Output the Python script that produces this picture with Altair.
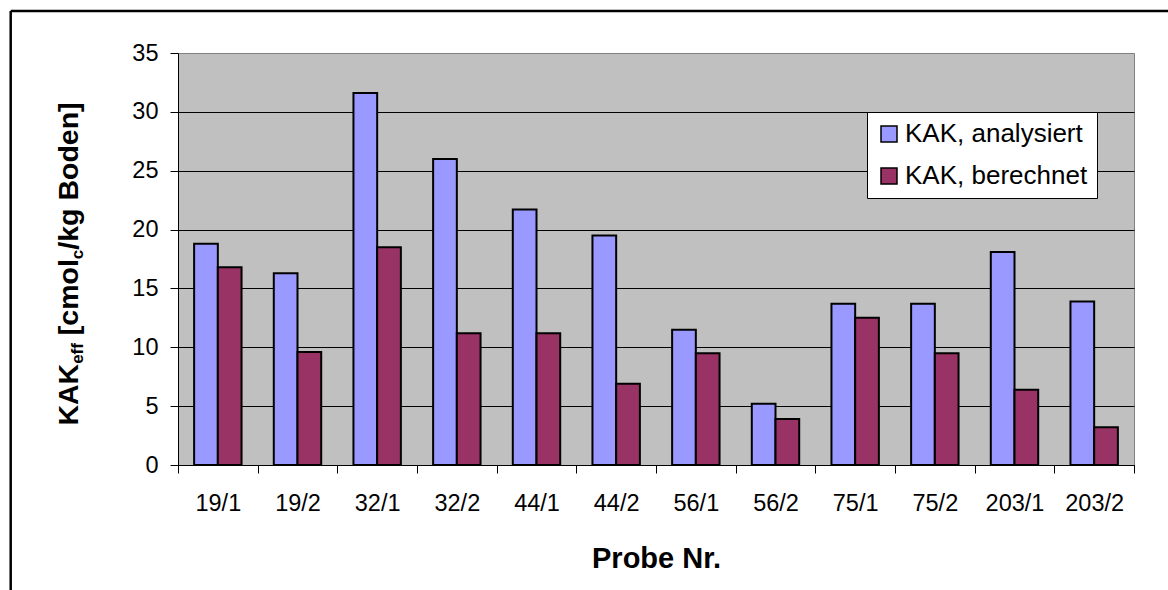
import altair as alt
import pandas as pd

# Samples and effective CEC values (cmol_c/kg soil)
proben = ["19/1", "19/2", "32/1", "32/2", "44/1", "44/2",
          "56/1", "56/2", "75/1", "75/2", "203/1", "203/2"]
kak_analysiert = [18.8, 16.3, 31.6, 26.0, 21.7, 19.5, 11.5, 5.2, 13.7, 13.7, 18.1, 13.9]
kak_berechnet = [16.8, 9.6, 18.5, 11.2, 11.2, 6.9, 9.5, 3.9, 12.5, 9.5, 6.4, 3.2]
serien = ["KAK, analysiert", "KAK, berechnet"]
farben = ["#9999FF", "#993366"]
y_werte = [0, 5, 10, 15, 20, 25, 30, 35]

rows = []
for p, a, b in zip(proben, kak_analysiert, kak_berechnet):
    rows.append({"Probe": p, "Serie": serien[0], "KAK": a})
    rows.append({"Probe": p, "Serie": serien[1], "KAK": b})
df = pd.DataFrame(rows)

W, H = 956, 412
FONT = "Liberation Sans"

bars = alt.Chart(df).mark_bar(stroke="black", strokeWidth=2).encode(
    x=alt.X(
        "Probe:N", sort=proben,
        scale=alt.Scale(paddingInner=0, paddingOuter=0),
        axis=alt.Axis(
            title="Probe Nr.", labelAngle=0, tickBand="extent", grid=False,
            tickSize=8, tickColor="black", domainColor="black",
            labelFont=FONT, labelFontSize=23.5, labelColor="black", labelPadding=18,
            titleFont=FONT, titleFontSize=29, titleFontWeight="bold", titleColor="black",
            titleBaseline="alphabetic", titleY=102,
        ),
    ),
    xOffset=alt.XOffset("Serie:N", sort=serien,
                        scale=alt.Scale(paddingInner=0, paddingOuter=0.68)),
    y=alt.Y(
        "KAK:Q",
        scale=alt.Scale(domain=[0, 35], nice=False),
        axis=alt.Axis(
            title=None, values=y_werte, grid=True, gridColor="black", gridWidth=1,
            gridOpacity={"condition": {"test": "datum.value >= 35", "value": 0}, "value": 1},
            tickSize=8, tickColor="black", domainColor="black",
            labelFont=FONT, labelFontSize=23.5, labelColor="black", labelPadding=12,
        ),
    ),
    color=alt.Color(
        "Serie:N", sort=serien,
        scale=alt.Scale(domain=serien, range=farben),
        legend=alt.Legend(
            title=None, orient="none", legendX=689, legendY=59, direction="vertical",
            fillColor="white", strokeColor="black", padding=9,
            symbolType="square", symbolSize=256, symbolStrokeColor="black",
            symbolStrokeWidth=1.5, symbolOpacity=1,
            labelFont=FONT, labelFontSize=26, labelColor="black", labelLimit=400,
            labelOffset=3, rowPadding=16,
        ),
    ),
)

# Y-axis title with subscripts, built from text pieces set along the axis
BIG, SMALL = 28.5, 17
arial_bold = {"K": 722, "A": 722, " ": 278, "[": 333, "c": 556, "m": 889, "o": 611,
              "l": 278, "/": 278, "k": 556, "g": 611, "B": 722, "d": 611, "e": 556,
              "n": 611, "]": 333, "f": 333}
teile = [("KAK", BIG, False), ("eff", SMALL, True), (" [cmol", BIG, False),
         ("c", SMALL, True), ("/kg Boden]", BIG, False)]

def breite(text, size):
    return sum(arial_bold[ch] for ch in text) * size / 1000.0

gesamt = sum(breite(t, s) for t, s, _ in teile)
start = (264 - 53) + gesamt / 2.0
titel_x = 78 - 178
texte = []
pos = start
for t, s, sub in teile:
    # leading blanks are collapsed in SVG text, so advance past them first
    kern = t.lstrip(" ")
    pos -= breite(t[: len(t) - len(kern)], s)
    texte.append(
        alt.Chart(pd.DataFrame({"t": [kern]})).mark_text(
            angle=270, align="left", baseline="alphabetic",
            font=FONT, fontWeight="bold", fontSize=s, color="black",
        ).encode(
            x=alt.value(titel_x + (5 if sub else 0)),
            y=alt.value(pos),
            text="t:N",
        )
    )
    pos -= breite(kern, s)

# Outer frame around the figure
eins = pd.DataFrame({"a": [0]})
rahmen_links = alt.Chart(eins).mark_rule(color="black", strokeWidth=2.5).encode(
    x=alt.value(-167.3), y=alt.value(-42), y2=alt.value(H + 140)
)
rahmen_oben = alt.Chart(eins).mark_rule(color="black", strokeWidth=2.5).encode(
    x=alt.value(-167.3), x2=alt.value(W + 40), y=alt.value(-42)
)

chart = alt.layer(bars, *texte, rahmen_links, rahmen_oben).properties(
    width=W, height=H,
    padding={"left": 178, "top": 53, "right": 34, "bottom": 125},
    autosize=alt.AutoSizeParams(type="none"),
).configure(
    background="white"
).configure_view(
    fill="#C0C0C0", stroke="#808080", strokeWidth=1
).configure_legend(
    strokeWidth=1
)

chart.save("out.html", embed_options={"renderer": "svg", "actions": False})
